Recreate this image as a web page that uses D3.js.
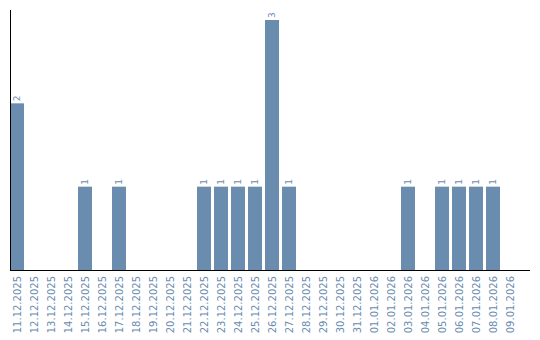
<!DOCTYPE html>
<html>
<head>
<meta charset="utf-8">
<script src="https://cdn.jsdelivr.net/npm/d3@7"></script>
<style>
  body { margin: 0; background: #fff; }
  svg { display: block; }
  .tick-label { font-family: "DejaVu Sans", Verdana, sans-serif; font-size: 10px; fill: #6a8caf; }
  .value-label { font-family: "DejaVu Sans", Verdana, sans-serif; font-size: 9px; fill: #6a8caf; }
</style>
</head>
<body>
<svg id="chart" width="540" height="340"></svg>
<script>
// dates shown on the x axis
const dates = [
  "11.12.2025", "12.12.2025", "13.12.2025", "14.12.2025", "15.12.2025",
  "16.12.2025", "17.12.2025", "18.12.2025", "19.12.2025", "20.12.2025",
  "21.12.2025", "22.12.2025", "23.12.2025", "24.12.2025", "25.12.2025",
  "26.12.2025", "27.12.2025", "28.12.2025", "29.12.2025", "30.12.2025",
  "31.12.2025", "01.01.2026", "02.01.2026", "03.01.2026", "04.01.2026",
  "05.01.2026", "06.01.2026", "07.01.2026", "08.01.2026", "09.01.2026"
];
// count per day
const counts = [
  2, 0, 0, 0, 1,
  0, 1, 0, 0, 0,
  0, 1, 1, 1, 1,
  3, 1, 0, 0, 0,
  0, 0, 0, 1, 0,
  1, 1, 1, 1, 0
];

const BAR_COLOR = "#6a8caf";
const data = dates.map((d, i) => ({ date: d, value: counts[i] }));

var svg = d3.select("#chart");

// step of 17px, bar 14px wide
var x = d3.scaleBand()
  .domain(dates)
  .range([10, 517])
  .paddingInner(3 / 17)
  .paddingOuter(0);

var y = d3.scaleLinear()
  .domain([0, 3])
  .range([270, 20]);

// bars (zero days drawn with no height)
svg.append("g")
  .selectAll("rect")
  .data(data.filter(d => d.value > 0))
  .enter()
  .append("rect")
  .attr("x", d => x(d.date))
  .attr("y", d => y(d.value))
  .attr("width", x.bandwidth())
  .attr("height", d => y(0) - y(d.value))
  .attr("fill", BAR_COLOR);

// value labels above bars, rotated
svg.append("g")
  .selectAll("text")
  .data(data.filter(d => d.value > 0))
  .enter()
  .append("text")
  .attr("class", "value-label")
  .attr("transform", d =>
    "translate(" + (x(d.date) + x.bandwidth() / 2 + 3) + "," + (y(d.value) - 2) + ") rotate(-90)")
  .text(d => d.value);

// x axis: labels rotated, no ticks
var xAxis = d3.axisBottom(x).tickSize(0).tickPadding(0);
var gx = svg.append("g")
  .attr("transform", "translate(0,270)")
  .call(xAxis);
gx.select(".domain").remove();
gx.selectAll("text")
  .attr("class", "tick-label")
  .attr("fill", null)
  .attr("font-family", null)
  .attr("font-size", null)
  .attr("y", 0)
  .attr("dy", null)
  .attr("transform", "translate(3.5,6) rotate(-90)")
  .style("text-anchor", "end");

// axis lines
svg.append("line")
  .attr("x1", 10.5).attr("x2", 10.5)
  .attr("y1", 10).attr("y2", 270)
  .attr("stroke", "#000");
svg.append("line")
  .attr("x1", 10).attr("x2", 530)
  .attr("y1", 270.5).attr("y2", 270.5)
  .attr("stroke", "#000");
</script>
</body>
</html>
